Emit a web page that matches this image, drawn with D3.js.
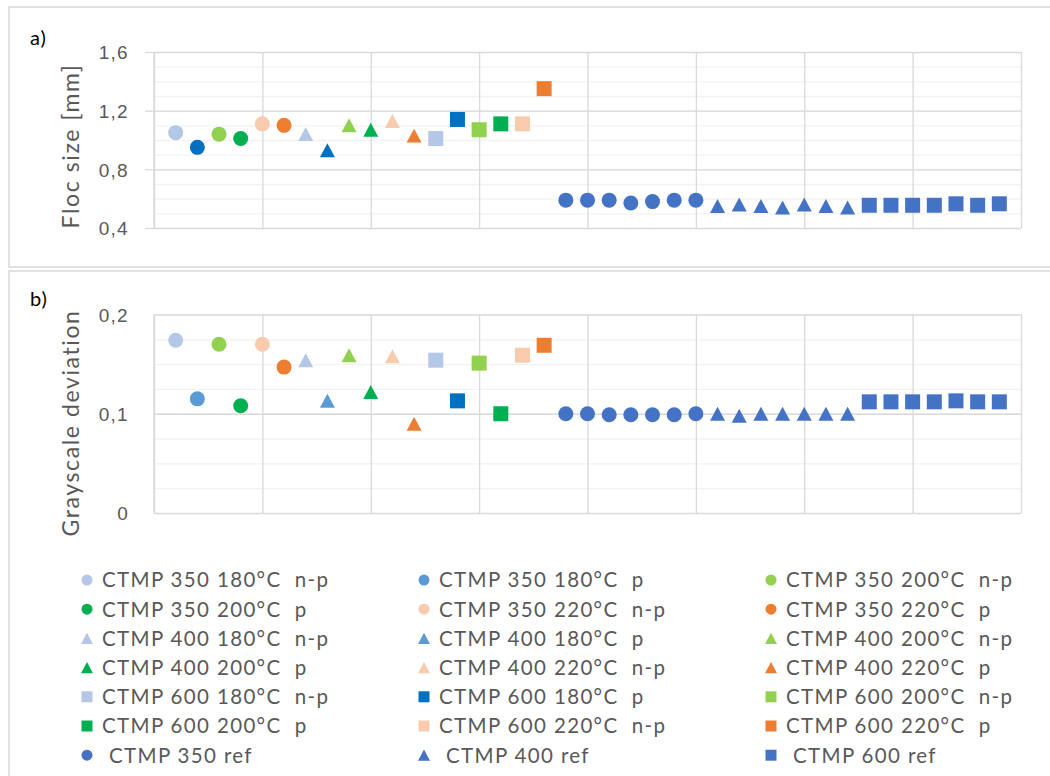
<!DOCTYPE html>
<html>
<head>
<meta charset="utf-8">
<script src="https://cdn.jsdelivr.net/npm/d3@7"></script>
<style>
    body { margin: 0; background: #fff; }
    svg { display: block; font-family: Lato, "Open Sans", sans-serif; }
    text { white-space: pre; }
</style>
</head>
<body>
<div id="chart"></div>
<script>
// series in legend order
var seriesNames = [
    "CTMP 350 180°C  n-p", "CTMP 350 180°C  p", "CTMP 350 200°C  n-p",
    "CTMP 350 200°C  p", "CTMP 350 220°C  n-p", "CTMP 350 220°C  p",
    "CTMP 400 180°C  n-p", "CTMP 400 180°C  p", "CTMP 400 200°C  n-p",
    "CTMP 400 200°C  p", "CTMP 400 220°C  n-p", "CTMP 400 220°C  p",
    "CTMP 600 180°C  n-p", "CTMP 600 180°C  p", "CTMP 600 200°C  n-p",
    "CTMP 600 200°C  p", "CTMP 600 220°C  n-p", "CTMP 600 220°C  p",
    "CTMP 350 ref", "CTMP 400 ref", "CTMP 600 ref"
];

// a) floc size [mm], one value per treated sample
var flocTreated = [1.05, 0.95, 1.04, 1.01, 1.11, 1.10, 1.04, 0.93, 1.10,
    1.07, 1.13, 1.03, 1.01, 1.14, 1.07, 1.11, 1.11, 1.35];
var flocRef350 = [0.59, 0.59, 0.59, 0.57, 0.58, 0.59, 0.59];
var flocRef400 = [0.55, 0.56, 0.55, 0.54, 0.56, 0.55, 0.54];
var flocRef600 = [0.555, 0.555, 0.555, 0.555, 0.565, 0.555, 0.565];

// b) grayscale deviation
var grayTreated = [0.174, 0.115, 0.170, 0.108, 0.170, 0.147, 0.154, 0.113, 0.159,
    0.122, 0.158, 0.090, 0.154, 0.113, 0.151, 0.100, 0.159, 0.169];
var grayRef350 = [0.100, 0.100, 0.099, 0.099, 0.099, 0.099, 0.100];
var grayRef400 = [0.100, 0.098, 0.100, 0.100, 0.100, 0.100, 0.100];
var grayRef600 = [0.112, 0.112, 0.112, 0.112, 0.113, 0.112, 0.112];

var flocTicks = [0.4, 0.8, 1.2, 1.6];
var grayTicks = [0, 0.1, 0.2];

// excel office palette
var lightBlue = "#B4C7E7", midBlue = "#5B9BD5", darkBlue = "#0070C0";
var lightGreen = "#92D050", green = "#00B050";
var peach = "#F8CBAD", orange = "#ED7D31", refBlue = "#4472C4";

var shapes = ["circle", "circle", "circle", "circle", "circle", "circle",
    "triangle", "triangle", "triangle", "triangle", "triangle", "triangle",
    "square", "square", "square", "square", "square", "square",
    "circle", "triangle", "square"];
var colorsB = [lightBlue, midBlue, lightGreen, green, peach, orange,
    lightBlue, midBlue, lightGreen, green, peach, orange,
    lightBlue, darkBlue, lightGreen, green, peach, orange,
    refBlue, refBlue, refBlue];
// panel a) draws the 180°C p circle and triangle in the darker blue
var colorsA = colorsB.map(function(c, i) { return (i === 1 || i === 7) ? darkBlue : c; });

var textGray = "#595959";
var width = 1050, height = 776;

var svg = d3.select("#chart").append("svg")
    .attr("width", width)
    .attr("height", height);

function markerPath(shape, s) {
    var p = d3.path();
    if (shape === "circle") {
        p.arc(0, 0, s / 2, 0, 2 * Math.PI);
    } else if (shape === "square") {
        p.rect(-s / 2, -s / 2, s, s);
    } else {
        var h = s * 0.93;
        p.moveTo(0, -h / 2);
        p.lineTo(s / 2, h / 2);
        p.lineTo(-s / 2, h / 2);
        p.closePath();
    }
    return p.toString();
}

function buildPoints(treated, refs) {
    var pts = treated.map(function(v, i) { return {x: i + 1, y: v, s: i}; });
    refs.forEach(function(arr, k) {
        arr.forEach(function(v, j) {
            pts.push({x: treated.length + 1 + k * arr.length + j, y: v, s: treated.length + k});
        });
    });
    return pts;
}

var x = d3.scaleLinear().domain([0, 40]).range([154, 1021]);
var xGrid = d3.range(0, 41, 5);

function fmt(d) {
    return d === 0 ? "0" : d3.format(".1f")(d).replace(".", ",");
}

function drawPanel(opt) {
    var y = d3.scaleLinear().domain(opt.domain).range(opt.range);
    var g = svg.append("g");

    // panel frame
    g.append("rect")
        .attr("x", 9).attr("y", opt.boxTop)
        .attr("width", 1100).attr("height", opt.boxHeight)
        .attr("fill", "none")
        .attr("stroke", "#D9D9D9")
        .attr("stroke-width", 1.5);

    // minor gridlines
    g.append("g")
        .attr("transform", "translate(" + x(0) + ",0)")
        .call(d3.axisLeft(y).tickValues(opt.minor).tickSize(-(x(40) - x(0))).tickFormat(""))
        .call(function(a) { a.select(".domain").remove(); })
        .selectAll("line").attr("stroke", "#F2F2F2").attr("stroke-width", 1.3);

    // vertical gridlines
    g.append("g")
        .attr("transform", "translate(0," + opt.range[0] + ")")
        .call(d3.axisBottom(x).tickValues(xGrid).tickSize(-(opt.range[0] - opt.range[1])).tickFormat(""))
        .call(function(a) { a.select(".domain").remove(); })
        .selectAll("line").attr("stroke", "#D9D9D9").attr("stroke-width", 1.3);

    // major gridlines
    g.append("g")
        .attr("transform", "translate(" + x(0) + ",0)")
        .call(d3.axisLeft(y).tickValues(opt.ticks).tickSize(-(x(40) - x(0))).tickFormat(""))
        .call(function(a) { a.select(".domain").remove(); })
        .selectAll("line").attr("stroke", "#D9D9D9").attr("stroke-width", 1.3);

    // y axis with labels
    var ax = g.append("g")
        .attr("transform", "translate(" + x(0) + ",0)")
        .call(d3.axisLeft(y).tickValues(opt.ticks).tickSize(opt.tickSize)
            .tickPadding(opt.tickPad).tickFormat(fmt));
    ax.select(".domain").attr("stroke", "#D9D9D9").attr("stroke-width", 1.3)
        .attr("d", "M0," + opt.range[0] + "V" + opt.range[1]);
    ax.selectAll("line").attr("stroke", "#D9D9D9").attr("stroke-width", 1.3);
    ax.selectAll("text")
        .attr("fill", textGray)
        .style("font-size", "19px")
        .style("letter-spacing", "1.3px")
        .attr("dy", "0.36em");

    // axis title
    g.append("text")
        .attr("transform", "translate(" + 79 + "," + opt.titleY + ") rotate(-90)")
        .attr("text-anchor", "middle")
        .attr("fill", textGray)
        .style("font-size", "23px")
        .style("letter-spacing", "1.6px")
        .text(opt.title);

    // panel letter
    g.append("text")
        .attr("x", 30).attr("y", opt.letterY)
        .attr("fill", "#000")
        .style("font-size", "20px")
        .style("letter-spacing", "1px")
        .text(opt.letter);

    // markers
    g.selectAll(".pt")
        .data(opt.points)
        .enter().append("path")
        .attr("class", "pt")
        .attr("transform", function(d) { return "translate(" + x(d.x) + "," + y(d.y) + ")"; })
        .attr("d", function(d) { return markerPath(shapes[d.s], 15); })
        .attr("fill", function(d) { return opt.colors[d.s]; });
}

drawPanel({
    domain: [0.4, 1.6], range: [228, 52],
    ticks: flocTicks, minor: d3.range(5, 16).map(function(d) { return d / 10; }),
    tickSize: 9, tickPad: 16,
    boxTop: 7, boxHeight: 260,
    title: "Floc size [mm]", titleY: 146,
    letter: "a)", letterY: 45,
    colors: colorsA,
    points: buildPoints(flocTreated, [flocRef350, flocRef400, flocRef600])
});

drawPanel({
    domain: [0, 0.2], range: [513, 314.5],
    ticks: grayTicks, minor: d3.range(1, 8).map(function(d) { return d * 0.025; }),
    tickSize: 0, tickPad: 25,
    boxTop: 271, boxHeight: 520,
    title: "Grayscale deviation", titleY: 423,
    letter: "b)", letterY: 306,
    colors: colorsB,
    points: buildPoints(grayTreated, [grayRef350, grayRef400, grayRef600])
});

// legend, 3 columns in row order
var legendCols = [87, 424, 771];
var legend = svg.append("g");
var item = legend.selectAll(".item")
    .data(seriesNames)
    .enter().append("g")
    .attr("class", "item")
    .attr("transform", function(d, i) {
        return "translate(" + legendCols[i % 3] + "," + (580 + Math.floor(i / 3) * 29.2) + ")";
    });

item.append("path")
    .attr("d", function(d, i) { return markerPath(shapes[i], shapes[i] === "triangle" ? 12 : 11); })
    .attr("fill", function(d, i) { return colorsB[i]; });

item.append("text")
    .attr("x", function(d, i) { return i >= 18 ? 22 : 15; })
    .attr("y", 7.4)
    .attr("fill", textGray)
    .style("font-size", "20.5px")
    .style("letter-spacing", "1.35px")
    .text(function(d) { return d; });
</script>
</body>
</html>
